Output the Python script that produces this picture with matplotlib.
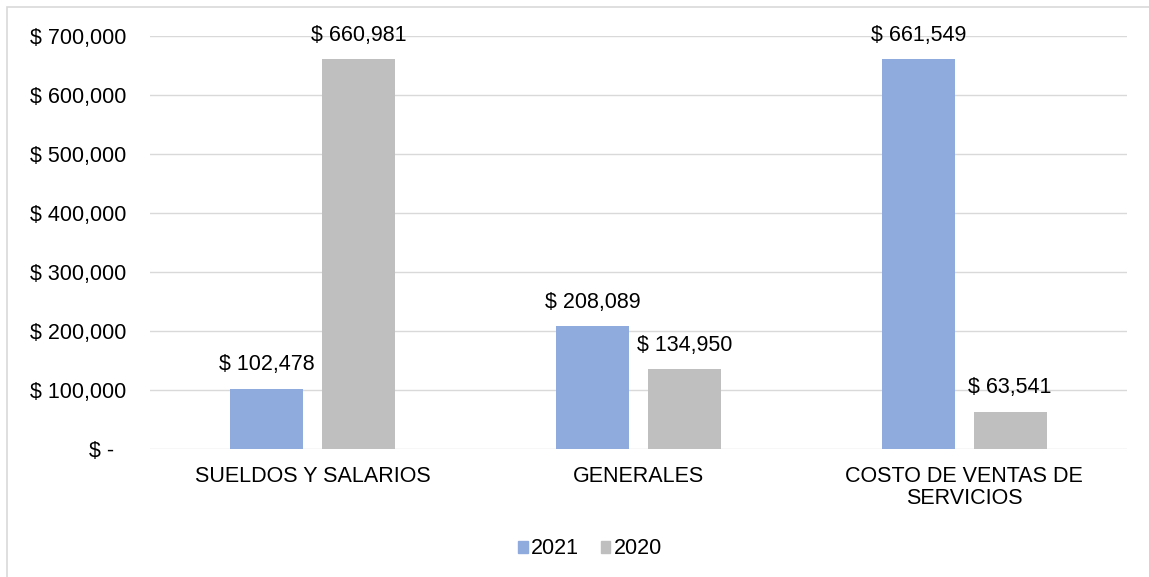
import matplotlib
matplotlib.use("Agg")
import matplotlib.pyplot as plt
import numpy as np
from matplotlib.patches import Rectangle, Patch

categories = ["SUELDOS Y SALARIOS", "GENERALES", "COSTO DE VENTAS DE\nSERVICIOS"]
series_names = ["2021", "2020"]
values_2021 = [102478, 208089, 661549]
values_2020 = [660981, 134950, 63541]
colors = ["#8faadc", "#bfbfbf"]

plt.rcParams['font.family'] = ['Liberation Sans', 'DejaVu Sans']
FS = 15.5

fig = plt.figure(figsize=(11.49, 5.77), dpi=100)
ax = fig.add_axes([150/1149, 1-449/577, (1127-150)/1149, (449-36)/577])

x = np.arange(len(categories))
w = 0.224
off = 0.141
b1 = ax.bar(x - off, values_2021, w, color=colors[0], zorder=3)
b2 = ax.bar(x + off, values_2020, w, color=colors[1], zorder=3)

for bars in (b1, b2):
    for rect in bars:
        v = rect.get_height()
        ax.annotate(f"$ {v:,.0f}", (rect.get_x() + rect.get_width()/2, v),
                    xytext=(0, 17), textcoords="offset points",
                    ha="center", va="center", fontsize=FS, color="#000000")

ax.set_xlim(-0.5, 2.5)
ax.set_ylim(0, 700000)
yt = np.arange(0, 700001, 100000)
ax.set_yticks(yt)
ax.set_yticklabels(["$ -  " if v == 0 else f"$ {v:,.0f}" for v in yt], fontsize=FS)
ax.set_xticks(x)
ax.set_xticklabels(categories, fontsize=FS, linespacing=1.1)
ax.tick_params(axis="both", length=0)
ax.tick_params(axis="y", pad=17)
ax.tick_params(axis="x", pad=12)
ax.grid(axis="y", color="#d9d9d9", linewidth=1, zorder=0)
for s in ax.spines.values():
    s.set_visible(False)

handles = [Patch(color=colors[0]), Patch(color=colors[1])]
fig.legend(handles, series_names, loc="center", bbox_to_anchor=(590/1149, 1-549/577),
           ncol=2, frameon=False, fontsize=FS, handlelength=0.45, handleheight=0.45,
           handletextpad=0.15, columnspacing=1.0)

border = Rectangle((7/1149, -0.05), 1.1, 1 - 7/577 + 0.05, transform=fig.transFigure,
                   fill=False, edgecolor="#d9d9d9", linewidth=1.2, clip_on=False)
fig.patches.append(border)

fig.savefig("out.png", dpi=100)
